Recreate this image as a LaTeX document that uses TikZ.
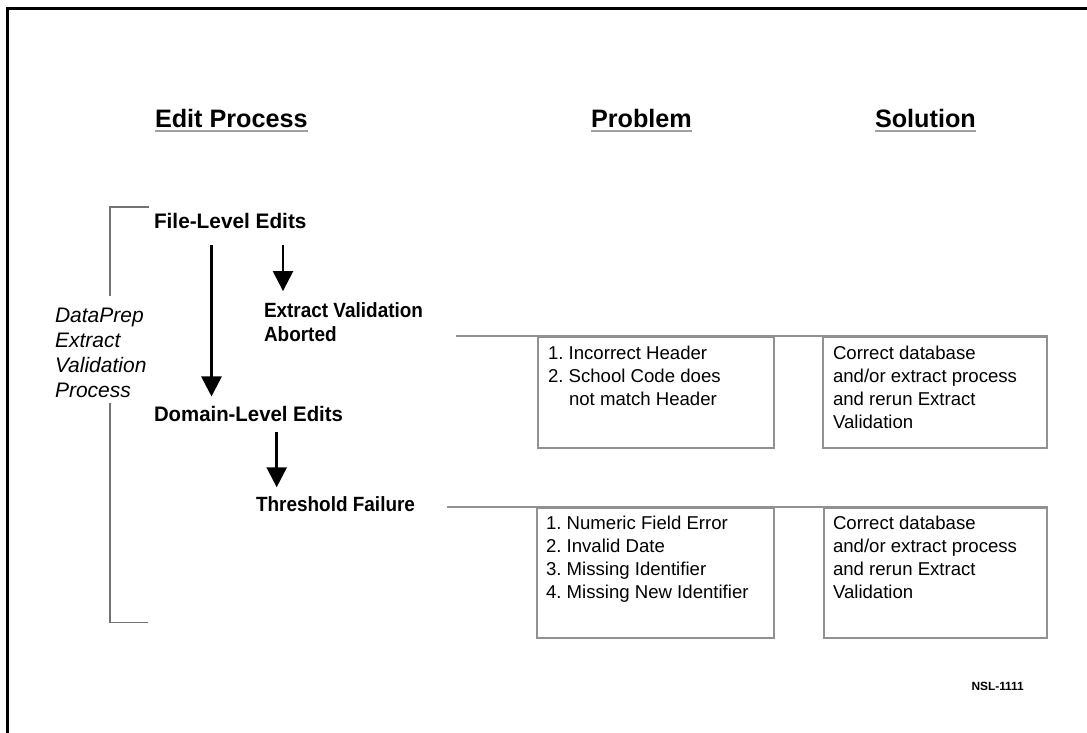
\documentclass[tikz,border=0pt]{standalone}
\usepackage{fontspec}
\setmainfont{Liberation Sans}
\usetikzlibrary{arrows.meta}
\definecolor{boxgray}{RGB}{145,145,145}
\definecolor{ulgray}{RGB}{160,160,160}
\definecolor{brkgray}{RGB}{115,115,115}
\newcommand\mysq[2]{\scalebox{#1}[1]{#2}}
\frenchspacing
\begin{document}
\frenchspacing
\begin{tikzpicture}[x=1pt,y=-1pt,
  txt/.style={inner sep=0pt,outer sep=0pt,anchor=base west},
  head/.style={txt,font=\fontsize{25.2}{30}\selectfont\bfseries},
  lvl/.style={txt,font=\fontsize{21}{25}\selectfont\bfseries},
  sub/.style={txt,font=\fontsize{20.6}{23}\selectfont\bfseries},
  ital/.style={txt,font=\fontsize{21}{25}\selectfont\itshape},
  body/.style={txt,font=\fontsize{18.6}{23}\selectfont},
  tag/.style={txt,font=\fontsize{11.9}{14}\selectfont\bfseries},
  uline/.style={draw=ulgray,line width=2.5pt},
  arr/.style={line width=2.5pt,-{Triangle[width=20pt,length=20pt]}},
  gline/.style={draw=boxgray,line width=2pt},
  box/.style={draw=boxgray,line width=2pt,inner sep=0pt,anchor=north west},
  brk/.style={draw=brkgray,line width=1.5pt},
  frame/.style={draw=black,line width=3pt}
]
\useasboundingbox (0,0) rectangle (1087,732);
\fill[white] (0,0) rectangle (1087,732);
\draw[frame] (7,733) -- (7,8) -- (1088,8);

% headings
\node[head] (ep) at (155,127) {Edit Process};
\node[head] (pr) at (591,127) {Problem};
\node[head] (so) at (875,127) {Solution};
\draw[uline] ([yshift=-4pt]ep.base west) -- ([yshift=-4pt]ep.base east);
\draw[uline] ([yshift=-4pt]pr.base west) -- ([yshift=-4pt]pr.base east);
\draw[uline] ([yshift=-4pt]so.base west) -- ([yshift=-4pt]so.base east);

% process steps
\node[lvl] (fle) at (154,228.5) {\mysq{0.99}{File-Level Edits}};
\node[sub] (eva) at (264,317) {\mysq{0.92}{Extract Validation}};
\node[sub] (abo) at (264,341) {\mysq{0.92}{Aborted}};
\node[lvl] (dle) at (154,421.5) {\mysq{0.97}{Domain-Level Edits}};
\node[sub] (thf) at (256,511.5) {\mysq{0.92}{Threshold Failure}};

\draw[arr] ([xshift=57.5pt,yshift=-16.5pt]fle.base west) -- ([xshift=57.5pt,yshift=9.8pt]dle.north west);
\draw[arr] ([xshift=129pt,yshift=-16.5pt]fle.base west) -- ([xshift=19pt,yshift=11pt]eva.north west);
\draw[arr] ([xshift=122.7pt,yshift=-10.2pt]dle.base west) -- ([xshift=20.7pt,yshift=9.3pt]thf.north west);

% side label and bracket
\node[ital] (dp1) at (55,322) {DataPrep};
\node[ital] (dp2) at (55,347) {Extract};
\node[ital] (dp3) at (55,372) {Validation};
\node[ital] (dp4) at (55,397) {Process};
\draw[brk] (149,207) -- (110,207) -- (110,296);
\draw[brk] (110,403) -- (110,622.5) -- (148,622.5);

% row 1
\node[box,minimum width=236pt,minimum height=111pt] (pb1) at (537,336) {};
\node[box,minimum width=224pt,minimum height=111pt] (sb1) at (822,336) {};
\coordinate (c1) at (456,336);
\draw[gline] (c1) -- (sb1.north east);
\node[body] (p1a) at (548,359) {1. Incorrect Header};
\node[body] (p1b) at (548,382) {2. School Code does};
\node[body] (p1c) at (569,405) {not match Header};
\node[body] (s1a) at (833,359) {Correct database};
\node[body] (s1b) at (833,382) {and/or extract process};
\node[body] (s1c) at (833,405) {and rerun Extract};
\node[body] (s1d) at (833,428) {Validation};

% row 2
\node[box,minimum width=237pt,minimum height=130pt] (pb2) at (536,507) {};
\node[box,minimum width=223pt,minimum height=130pt] (sb2) at (823,507) {};
\coordinate (c2) at (447,507);
\draw[gline] (c2) -- (sb2.north east);
\node[body] (p2a) at (546,529.5) {1. Numeric Field Error};
\node[body] (p2b) at (546,552.5) {2. Invalid Date};
\node[body] (p2c) at (546,575.5) {3. Missing Identifier};
\node[body] (p2d) at (546,598.5) {4. Missing New Identifier};
\node[body] (s2a) at (833,529.5) {Correct database};
\node[body] (s2b) at (833,552.5) {and/or extract process};
\node[body] (s2c) at (833,575.5) {and rerun Extract};
\node[body] (s2d) at (833,598.5) {Validation};

\node[tag] (nsl) at (971.5,690.5) {NSL-1111};
\end{tikzpicture}
\end{document}
